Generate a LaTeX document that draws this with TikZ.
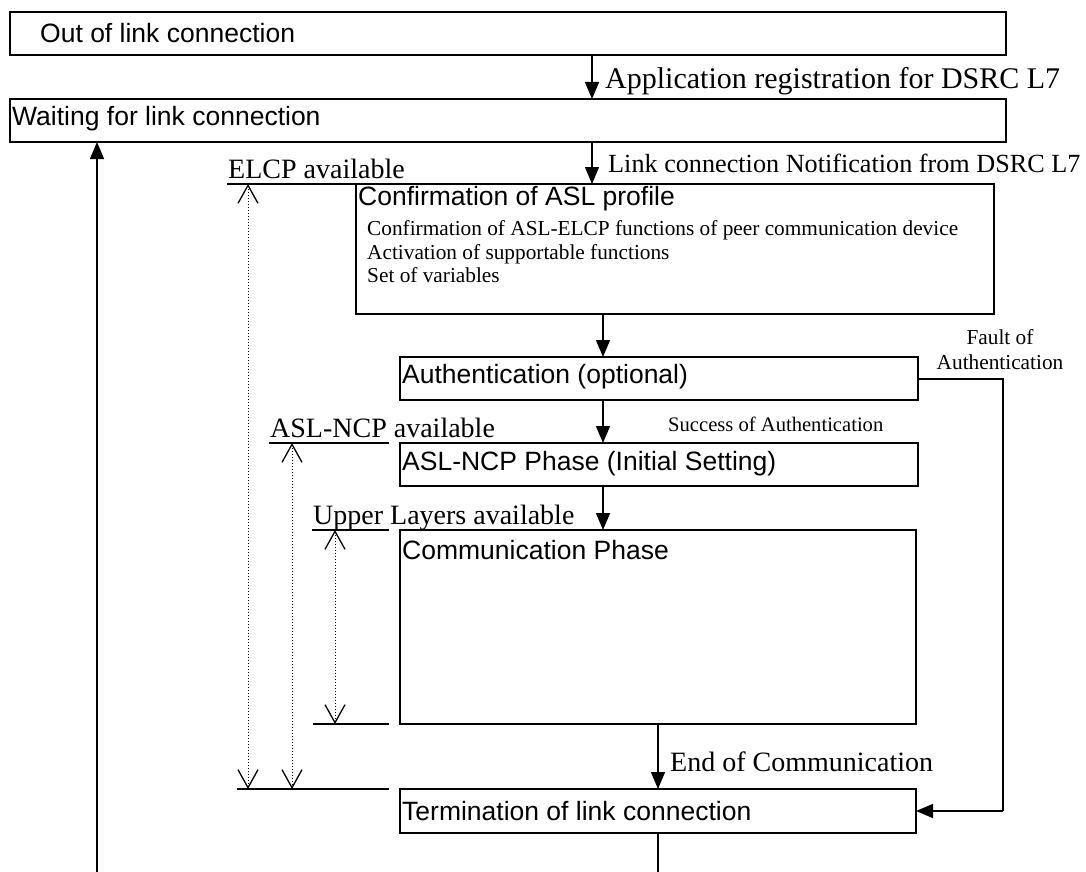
\documentclass[tikz,border=0pt]{standalone}
\usepackage{fontspec}
\setmainfont{Liberation Serif}
\setsansfont{Liberation Sans}
\usetikzlibrary{arrows.meta}
\begin{document}
\begin{tikzpicture}[x=1pt,y=-1pt,
  box/.style={draw,line width=1.3pt,inner sep=0pt,outer sep=0pt,anchor=north west},
  stext/.style={inner sep=0pt,anchor=west,font=\sffamily\fontsize{26.5}{30}\selectfont},
  rtext/.style={inner sep=0pt,font=\rmfamily\fontsize{28}{32}\selectfont},
  smalltext/.style={inner sep=0pt,anchor=west,align=left,font=\rmfamily\fontsize{21.3}{23.5}\selectfont},
  arr/.style={line width=1.3pt,-{Triangle[length=17pt,width=14pt]}},
  plain/.style={line width=1.3pt},
  darr/.style={line width=0.8pt,dash pattern=on 1pt off 2pt,
    {Straight Barb[length=18pt,width=20pt,line width=1.3pt]}-{Straight Barb[length=18pt,width=20pt,line width=1.3pt]}}
]
\useasboundingbox (0,0) rectangle (1086,872);
% boxes
\node[box,minimum width=996pt,minimum height=43pt] (out) at (10,12) {};
\node[box,minimum width=996pt,minimum height=43pt] (wait) at (10,99) {};
\node[box,minimum width=638pt,minimum height=130pt] (conf) at (356,184) {};
\node[box,minimum width=518pt,minimum height=43pt] (auth) at (400,357) {};
\node[box,minimum width=518pt,minimum height=43pt] (ncp) at (400,443) {};
\node[box,minimum width=516pt,minimum height=194pt] (comm) at (400,530) {};
\node[box,minimum width=516pt,minimum height=44pt] (term) at (400,789) {};
% box texts
\node[stext] (tout) at (40,33) {Out of link connection};
\node[stext] (twait) at (12,119) {Waiting for link connection};
\node[stext] (tconf) at (358,199) {Confirmation of ASL profile};
\node[smalltext] (tconf2) at (367,252) {Confirmation of ASL-ELCP functions of peer communication device\\Activation of supportable functions\\Set of variables};
\node[stext] (tauth) at (402,377) {Authentication (optional)};
\node[stext] (tncp) at (402,464) {ASL-NCP Phase (Initial Setting)};
\node[stext] (tcomm) at (402,550) {Communication Phase};
\node[stext] (tterm) at (402,811) {Termination of link connection};
% main flow
\coordinate (xa) at (592,0);
\coordinate (xb) at (603,0);
\coordinate (xc) at (658,0);
\draw[arr] (out.south -| xa) -- (wait.north -| xa);
\draw[arr] (wait.south -| xa) -- (conf.north -| xa);
\draw[arr] (conf.south -| xb) -- (auth.north -| xb);
\draw[arr] (auth.south -| xb) -- (ncp.north -| xb);
\draw[arr] (ncp.south -| xb) -- (comm.north -| xb);
\draw[arr] (comm.south -| xc) -- (term.north -| xc);
\coordinate (bot) at (658,872);
\draw[plain] (term.south -| xc) -- (bot);
% flow labels
\node[rtext,anchor=west,font=\rmfamily\fontsize{30}{33}\selectfont] (lapp) at (605,81) {Application registration for DSRC L7};
\node[rtext,anchor=west,font=\rmfamily\fontsize{26.2}{29}\selectfont] (llink) at (608,163) {Link connection Notification from DSRC L7};
\node[rtext,anchor=west,font=\rmfamily\fontsize{20.6}{23}\selectfont] (lsucc) at (668,424) {Success of Authentication};
\node[rtext,anchor=west] (lend) at (670,762) {End of Communication};
\node[rtext,align=center,font=\rmfamily\fontsize{21.3}{25}\selectfont] (lfault) at (1000,350) {Fault of\\Authentication};
% fault path
\coordinate (f1) at (1003,379);
\coordinate (f2) at (1003,811);
\draw[plain] (auth.east |- f1) -- (f1) -- (f2);
\draw[arr] (f2) -- (term.east |- f2);
% return path
\coordinate (r0) at (97,872);
\draw[arr] (r0) -- (wait.south -| r0);
% availability labels and lines
\node[rtext,anchor=base west] (lelcp) at (228,178) {ELCP available};
\node[rtext,anchor=base west] (lncp) at (270,437) {ASL-NCP available};
\node[rtext,anchor=base west] (lup) at (313,524) {Upper Layers available};
\coordinate (u1) at (227,184);
\coordinate (u2) at (269,443);
\coordinate (u2e) at (389,443);
\coordinate (u3) at (312,530);
\coordinate (u3e) at (389,530);
\coordinate (b1) at (313,724);
\coordinate (b1e) at (389,724);
\coordinate (b2) at (237,789);
\coordinate (b2e) at (389,789);
\draw[plain] (u1) -- (conf.north west);
\draw[plain] (u2) -- (u2e);
\draw[plain] (u3) -- (u3e);
\draw[plain] (b1) -- (b1e);
\draw[plain] (b2) -- (b2e);
% dotted ranges
\coordinate (d1t) at (248,184);
\coordinate (d1b) at (248,789);
\coordinate (d2t) at (292,443);
\coordinate (d2b) at (292,789);
\coordinate (d3t) at (335,530);
\coordinate (d3b) at (335,724);
\draw[darr] (d1t) -- (d1b);
\draw[darr] (d2t) -- (d2b);
\draw[darr] (d3t) -- (d3b);
\end{tikzpicture}
\end{document}
